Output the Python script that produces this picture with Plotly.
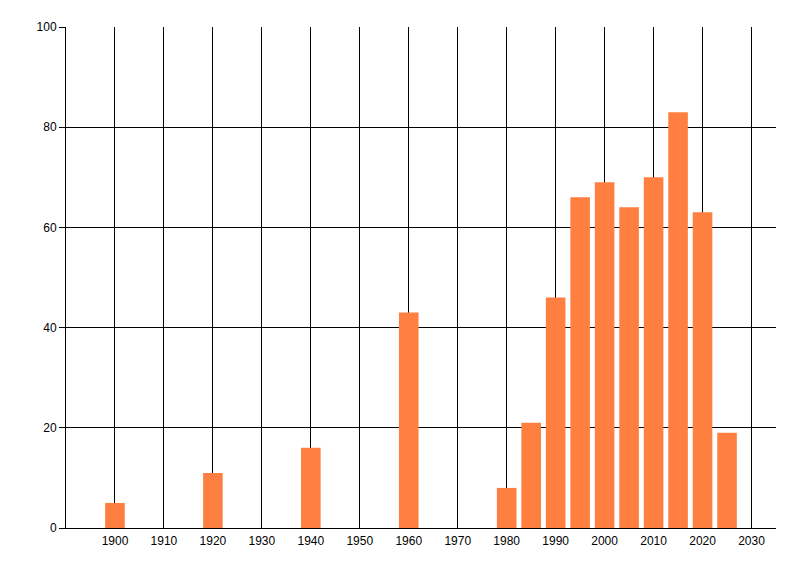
import plotly.graph_objects as go

# values
years = [1900, 1920, 1940, 1960, 1980, 1985, 1990, 1995, 2000, 2005, 2010, 2015, 2020, 2025]
counts = [5, 11, 16, 43, 8, 21, 46, 66, 69, 64, 70, 83, 63, 19]

x_ticks = list(range(1900, 2031, 10))
y_ticks = [0, 20, 40, 60, 80, 100]

fig = go.Figure()
fig.add_trace(go.Bar(
    x=years, y=counts,
    width=4,
    marker=dict(color='rgb(255,127,64)', line=dict(width=0)),
))

# page body adds an 8px margin, so the figure is a bit smaller than the window
fig.update_layout(
    width=792, height=568,
    margin=dict(l=58, r=24, t=19, b=48),
    plot_bgcolor='white', paper_bgcolor='white',
    showlegend=False,
    font=dict(family='Liberation Sans, Arial, sans-serif', size=12, color='black'),
    xaxis=dict(
        range=[1890, 2035],
        tickvals=x_ticks,
        showgrid=True, gridcolor='black', gridwidth=1,
        showline=True, linecolor='black', linewidth=1,
        ticks='', zeroline=False,
        ticklabelstandoff=2,
    ),
    yaxis=dict(
        range=[0, 100],
        tickvals=y_ticks,
        showgrid=True, gridcolor='black', gridwidth=1,
        showline=True, linecolor='black', linewidth=1,
        ticks='outside', ticklen=6, tickcolor='black',
        zeroline=False,
    ),
)

fig.write_html("out.html")
